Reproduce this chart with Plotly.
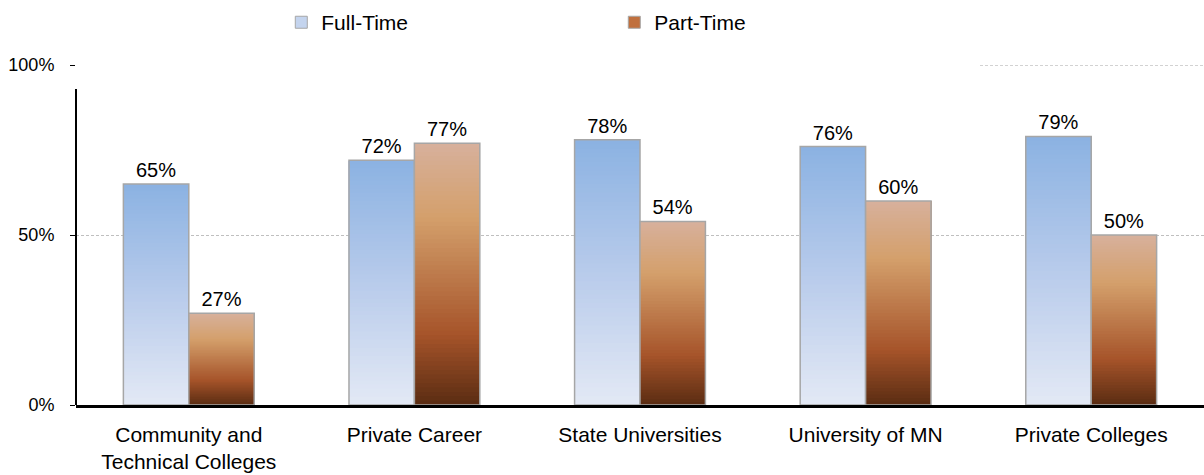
import plotly.graph_objects as go

categories = ["Community and<br>Technical Colleges", "Private Career", "State Universities",
              "University of MN", "Private Colleges"]
full_time = [65, 72, 78, 76, 79]
part_time = [27, 77, 54, 60, 50]
series_names = ["Full-Time", "Part-Time"]

# gradient stops (bottom -> top)
blue_stops = [(0.0, (227, 233, 245)), (0.5, (184, 203, 235)), (1.0, (139, 178, 226))]
brown_stops = [(0.0, (90, 44, 18)), (0.27, (166, 84, 42)), (0.72, (212, 160, 108)), (1.0, (215, 177, 156))]
N = 60


def interp(stops, t):
    for (t0, c0), (t1, c1) in zip(stops[:-1], stops[1:]):
        if t0 <= t <= t1:
            f = (t - t0) / (t1 - t0)
            return "rgb(%d,%d,%d)" % tuple(round(a + (b - a) * f) for a, b in zip(c0, c1))
    return "rgb(%d,%d,%d)" % stops[-1][1]


fig = go.Figure()
font = "Liberation Sans, Arial, sans-serif"

for name, vals, stops, grp, legcol in [
    (series_names[0], full_time, blue_stops, "ft", "rgb(196,212,238)"),
    (series_names[1], part_time, brown_stops, "pt", "rgb(192,112,62)"),
]:
    # gradient: each slice runs from its base to the bar top, later slices drawn over earlier
    for i in range(N):
        fig.add_trace(go.Bar(
            x=categories, y=[v * (N - i) / N for v in vals], base=[v * i / N for v in vals],
            offsetgroup=grp, marker=dict(color=interp(stops, (i + 0.5) / N), line=dict(width=0)),
            showlegend=False, hoverinfo="skip"))
    # outline + labels
    fig.add_trace(go.Bar(
        x=categories, y=vals, offsetgroup=grp, name=name,
        marker=dict(color="rgba(0,0,0,0)", line=dict(color="#a6a6a6", width=1.5)),
        text=[f"{v}%" for v in vals], textposition="outside",
        textfont=dict(size=20, color="#000000", family=font),
        showlegend=False))
    # legend entry
    fig.add_trace(go.Bar(
        x=categories, y=[None] * len(vals), offsetgroup=grp, name=name,
        marker=dict(color=legcol, line=dict(color="#a6a6a6", width=1)),
        showlegend=True))

fig.update_layout(
    width=1204, height=475,
    margin=dict(l=76, r=0, t=65, b=70),
    paper_bgcolor="white", plot_bgcolor="white",
    barmode="group", bargap=0.42, bargroupgap=0,
    font=dict(family=font, size=18, color="#000000"),
    legend=dict(orientation="h", x=0.182, xanchor="left", y=1.185, yanchor="top",
                font=dict(size=21, family=font), entrywidth=288, itemwidth=30,
                bgcolor="rgba(0,0,0,0)"),
    xaxis=dict(showline=True, linecolor="#000000", linewidth=2.5, ticks="",
               tickfont=dict(size=21, family=font), ticklabelstandoff=9,
               showgrid=False, zeroline=False),
    yaxis=dict(range=[0, 100], tickvals=[0, 50, 100], ticktext=["0%", "50%", "100%"],
               showline=False, ticks="outside", ticklen=5,
               tickcolor="#000000", tickwidth=1, ticklabelstandoff=12,
               tickfont=dict(size=18, family=font),
               showgrid=True, gridcolor="#bfbfbf", gridwidth=1, griddash="3px,2px",
               zeroline=False),
    shapes=[
        # y axis line (starts below the legend area)
        dict(type="line", xref="paper", yref="paper", x0=0, x1=0, y0=0, y1=(405 - 89) / 340,
             line=dict(color="#000000", width=2), layer="above"),
        # partial 100% gridline on the right
        dict(type="line", xref="paper", yref="y", x0=(980 - 76) / 1128, x1=1, y0=100, y1=100,
             line=dict(color="#a6a6a6", width=1, dash="3px,2px"), layer="below"),
    ],
)

fig.write_html("out.html")
